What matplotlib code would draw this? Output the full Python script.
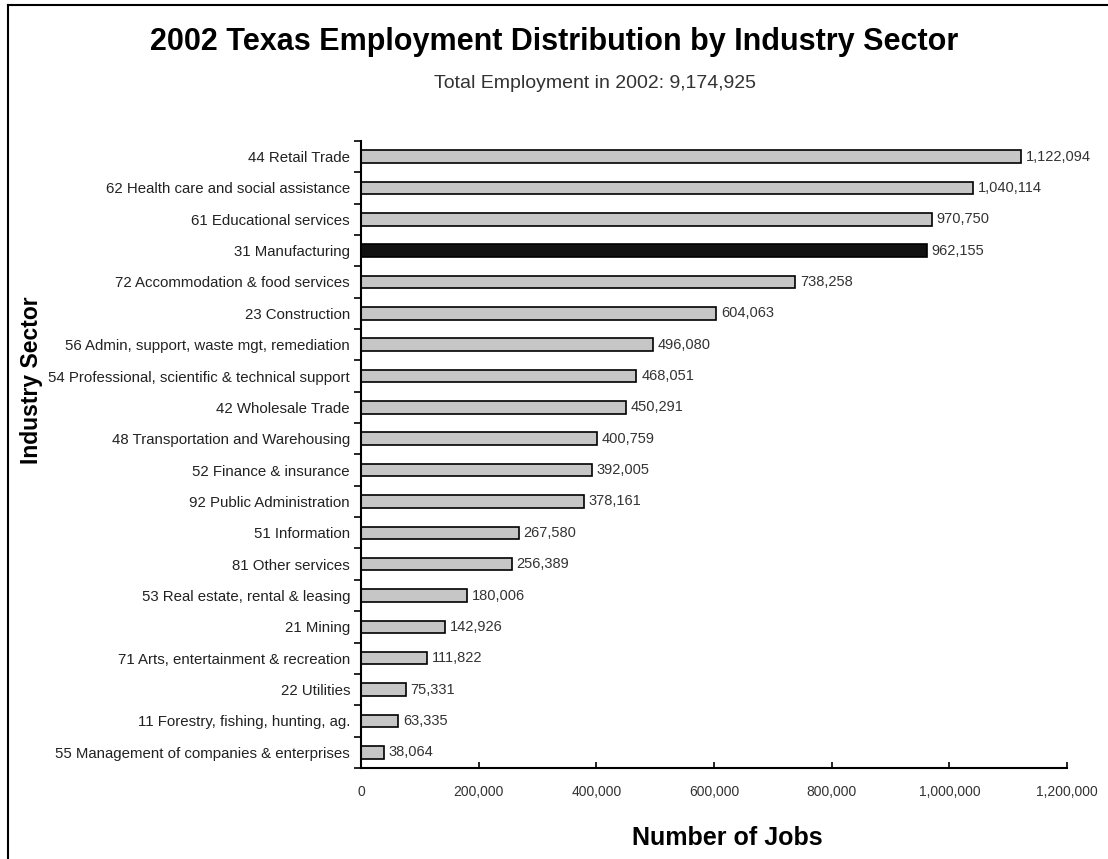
import matplotlib.pyplot as plt
from matplotlib.lines import Line2D

plt.rcParams['font.family'] = ['Liberation Sans', 'DejaVu Sans']

# Sectors from top to bottom as in the chart
sectors = [
    "44 Retail Trade",
    "62 Health care and social assistance",
    "61 Educational services",
    "31 Manufacturing",
    "72 Accommodation & food services",
    "23 Construction",
    "56 Admin, support, waste mgt, remediation",
    "54 Professional, scientific & technical support",
    "42 Wholesale Trade",
    "48 Transportation and Warehousing",
    "52 Finance & insurance",
    "92 Public Administration",
    "51 Information",
    "81 Other services",
    "53 Real estate, rental & leasing",
    "21 Mining",
    "71 Arts, entertainment & recreation",
    "22 Utilities",
    "11 Forestry, fishing, hunting, ag.",
    "55 Management of companies & enterprises",
]
jobs = [1122094, 1040114, 970750, 962155, 738258, 604063, 496080, 468051,
        450291, 400759, 392005, 378161, 267580, 256389, 180006, 142926,
        111822, 75331, 63335, 38064]
highlight = "31 Manufacturing"
x_ticks = [0, 200000, 400000, 600000, 800000, 1000000, 1200000]

fig = plt.figure(figsize=(11.08, 8.59), dpi=100)
ax = fig.add_axes([0.326, 0.106, 0.637, 0.730])

pos = list(range(len(sectors)))
colors = ['#111111' if s == highlight else '#c6c6c6' for s in sectors]
ax.barh(pos, jobs, height=0.4, color=colors, edgecolor='black', linewidth=1.2)

for p, v in zip(pos, jobs):
    ax.text(v + 8000, p, f"{v:,}", va='center', ha='left', fontsize=10.5, color='#333333')

ax.set_ylim(len(sectors) - 0.5, -0.5)
ax.set_xlim(0, 1200000)
ax.set_yticks(pos)
ax.set_yticklabels(sectors, fontsize=10.8, color='#222222')
ax.tick_params(axis='y', length=0, pad=8)
# ticks between categories on the y axis
ax.set_yticks([p + 0.5 for p in [-1] + pos], minor=True)
ax.tick_params(axis='y', which='minor', length=5, width=1.2, direction='out')
ax.set_xticks(x_ticks)
ax.set_xticklabels([f"{t:,}" for t in x_ticks], fontsize=10, color='#333333')
ax.tick_params(axis='x', length=4, width=1.2, direction='in', pad=12)

for side in ['top', 'right']:
    ax.spines[side].set_visible(False)
for side in ['left', 'bottom']:
    ax.spines[side].set_linewidth(1.5)

fig.text(0.028, 0.557, "Industry Sector", rotation=90, ha='center', va='center',
         fontsize=16.5, fontweight='bold')
fig.text(0.656, 0.024, "Number of Jobs", ha='center', va='center',
         fontsize=18, fontweight='bold')

fig.text(0.5, 0.951, "2002 Texas Employment Distribution by Industry Sector",
         ha='center', va='center', fontsize=22, fontweight='bold')
fig.text(0.537, 0.903, "Total Employment in 2002: 9,174,925",
         ha='center', va='center', fontsize=14, color='#333333')

# outer frame lines (left and top)
fig.add_artist(Line2D([0.0075, 0.0075], [0.0, 0.994], transform=fig.transFigure,
                      color='black', linewidth=1.5))
fig.add_artist(Line2D([0.0075, 1.0], [0.994, 0.994], transform=fig.transFigure,
                      color='black', linewidth=1.5))

fig.savefig("out.png", dpi=100)
